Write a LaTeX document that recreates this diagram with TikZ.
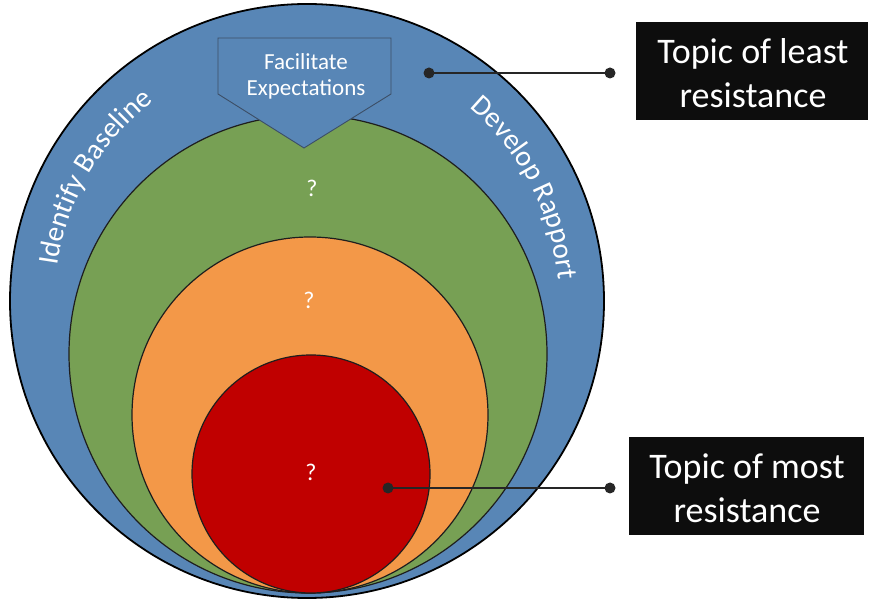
\documentclass[tikz,border=0pt]{standalone}
\usepackage{fontspec}
\setmainfont{Carlito}
\usetikzlibrary{decorations.text}
\definecolor{ringblue}{HTML}{5886B6}
\definecolor{ringgreen}{HTML}{77A054}
\definecolor{ringorange}{HTML}{F39848}
\definecolor{ringred}{HTML}{C00000}
\definecolor{boxblack}{HTML}{0D0D0D}
\definecolor{edgedark}{HTML}{1E1E1E}
\definecolor{pentedge}{HTML}{3C4E66}
\definecolor{linkgray}{HTML}{262626}
\begin{document}
\begin{tikzpicture}[x=1pt,y=1pt,
  disk/.style={circle, inner sep=0pt, outer sep=0pt, draw=edgedark, line width=1.2pt},
  qmark/.style={text=white, font=\fontsize{24}{28}\selectfont, inner sep=0pt},
  topicbox/.style={fill=boxblack, text=white, align=center, inner sep=0pt,
    font=\fontsize{36}{44}\selectfont},
  linkdot/.style={circle, fill=linkgray, inner sep=0pt, minimum size=11pt},
  link/.style={draw=linkgray, line width=2pt}
]
\useasboundingbox (0,0) rectangle (869,599);
\fill[white] (0,0) rectangle (869,599);

% concentric-ish disks
\node[disk, fill=ringblue, draw=black, line width=1.8pt, minimum size=594pt] (blue) at (307,298) {};
\node[disk, fill=ringgreen, minimum size=478pt] (green) at (308,245) {};
\node[disk, fill=ringorange, minimum size=356pt] (orange) at (310,184) {};
\node[disk, fill=ringred, minimum size=238pt] (red) at (311,125) {};

% question marks
\node[qmark] (q1) at (312,411) {?};
\node[qmark] (q2) at (309,299) {?};
\node[qmark] (q3) at (311,127) {?};

% pentagon "Facilitate Expectations"
\draw[fill=ringblue, draw=pentedge, line width=0.9pt]
  (218,561) -- (391,561) -- (391,505) -- (304,451) -- (218,505) -- cycle;
\node[text=white, align=center, font=\fontsize{23}{26}\selectfont, inner sep=0pt]
  (facil) at (306,523) {Facilitate\\Expectations};

% curved texts
\path[decorate, decoration={text along path,
    text={|\fontsize{29}{34}\selectfont\color{white}|Identify Baseline}}]
  (307,298) ++(172:252) arc[start angle=172, end angle=100, radius=252];
\path[decorate, decoration={text along path,
    text={|\fontsize{29}{34}\selectfont\color{white}|Develop Rapport}}]
  (307,298) ++(50:252) arc[start angle=50, end angle=-20, radius=252];

% topic boxes
\path[fill=boxblack] (636,479) rectangle (868,577);
\node[topicbox] (least) at (753,526) {Topic of least\\resistance};
\path[fill=boxblack] (629,64) rectangle (864,162);
\node[topicbox] (most) at (747,111) {Topic of most\\resistance};

% connectors
\node[linkdot] (la) at (429,526) {};
\node[linkdot] (lb) at (610,526) {};
\node[linkdot] (ma) at (388,111) {};
\node[linkdot] (mb) at (610,111) {};
\draw[link] (la.center) -- (lb.center);
\draw[link] (ma.center) -- (mb.center);
\end{tikzpicture}
\end{document}
